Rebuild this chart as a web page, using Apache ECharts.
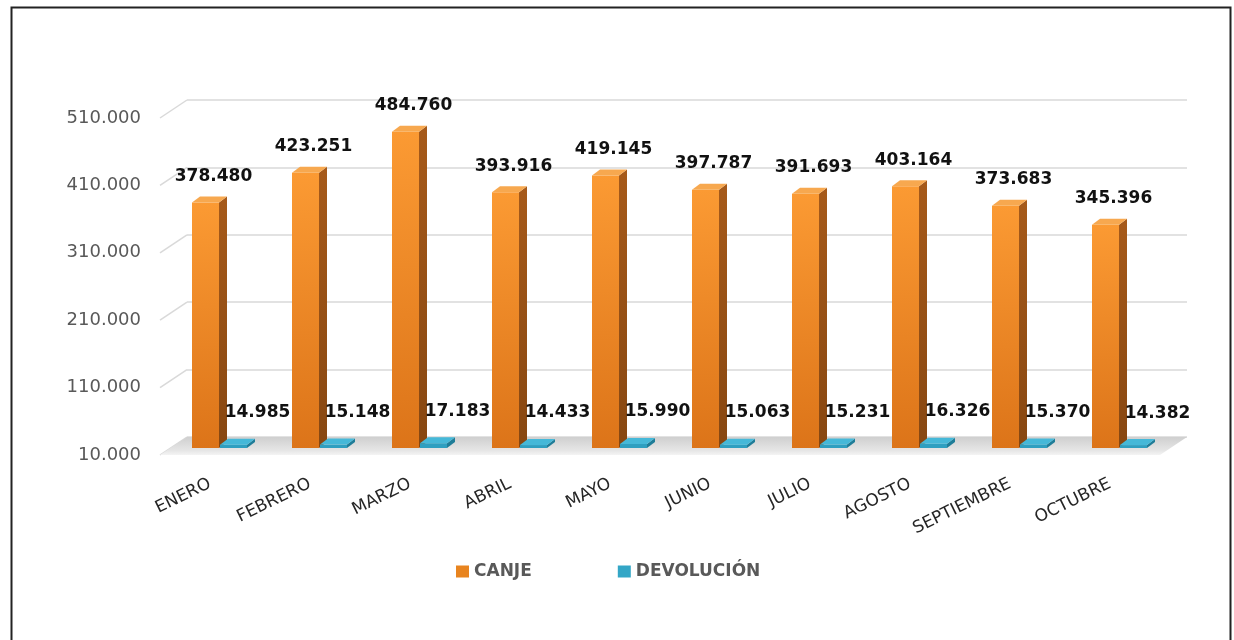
<!DOCTYPE html>
<html><head><meta charset="utf-8">
<script src="https://cdn.jsdelivr.net/npm/echarts@6/dist/echarts.min.js"></script>
<style>html,body{margin:0;padding:0;background:#fff}#c{width:1234px;height:640px}</style>
</head><body><div id="c"></div>
<script>
const categories = ['ENERO','FEBRERO','MARZO','ABRIL','MAYO','JUNIO','JULIO','AGOSTO','SEPTIEMBRE','OCTUBRE'];
const canje = [378480, 423251, 484760, 393916, 419145, 397787, 391693, 403164, 373683, 345396];
const devolucion = [14985, 15148, 17183, 14433, 15990, 15063, 15231, 16326, 15370, 14382];
const yTicks = [10000, 110000, 210000, 310000, 410000, 510000];
const seriesNames = ['CANJE', 'DEVOLUCIÓN'];

const Y_MIN = yTicks[0], Y_MAX = yTicks[yTicks.length - 1], Y_STEP = yTicks[1] - yTicks[0];
const DEPTH_X = 8, DEPTH_Y = 6;
const WALL_X = 27, WALL_Y = 18;
const FONT = '"DejaVu Sans", sans-serif';

function fmt(v) { return String(Math.round(v)).replace(/\B(?=(\d{3})+(?!\d))/g, '.'); }

const LG = echarts.graphic.LinearGradient;
const orange = {
  front: new LG(0, 0, 0, 1, [{offset: 0, color: '#fb9a33'}, {offset: 1, color: '#dc7419'}]),
  side: new LG(0, 0, 0, 1, [{offset: 0, color: '#a65a1a'}, {offset: 1, color: '#874711'}]),
  top: '#f7a84f', legend: '#e8841f'
};
const teal = {
  front: '#2f9fc0', side: '#1f7d98', top: '#45b8d8', legend: '#33a6c6'
};

function bar3d(colors, offsetFrac, labelDx, labelDy) {
  return function (params, api) {
    const i = api.value(0), v = api.value(1);
    const top = api.coord([i, v]);
    const base = api.coord([i, Y_MIN]);
    const bw = api.size([1, 0])[0];
    const w = bw * 0.27;
    const x0 = top[0] + bw * offsetFrac;
    const x1 = x0 + w;
    const yT = top[1], yB = base[1];
    return {
      type: 'group',
      children: [
        {type: 'polygon', shape: {points: [[x1, yT], [x1 + DEPTH_X, yT - DEPTH_Y], [x1 + DEPTH_X, yB - DEPTH_Y], [x1, yB]]}, style: {fill: colors.side}},
        {type: 'rect', shape: {x: x0, y: yT, width: w, height: yB - yT}, style: {fill: colors.front}},
        {type: 'polygon', shape: {points: [[x0, yT], [x0 + DEPTH_X, yT - DEPTH_Y], [x1 + DEPTH_X, yT - DEPTH_Y], [x1, yT]]}, style: {fill: colors.top}},
        {type: 'text', x: x0 + w / 2 + labelDx, y: yT - DEPTH_Y + labelDy, z2: 10,
          style: {text: fmt(v), fill: '#111', font: 'bold 17px ' + FONT, align: 'center', verticalAlign: 'middle'}}
      ]
    };
  };
}

const chart = echarts.init(document.getElementById('c'), null, {renderer: 'canvas'});
const hiddenX = (gi) => ({type: 'category', gridIndex: gi, data: categories, show: false});
const valY = (gi, extra) => Object.assign({type: 'value', gridIndex: gi, min: Y_MIN, max: Y_MAX, interval: Y_STEP,
  axisLine: {show: false}, axisTick: {show: false}, axisLabel: {show: false}, splitLine: {show: false}}, extra || {});

chart.setOption({
  animation: false,
  backgroundColor: '#fff',
  graphic: [{type: 'rect', left: 9, top: 5, shape: {width: 1219, height: 700}, style: {fill: 'none', stroke: '#222', lineWidth: 2}, silent: true}],
  grid: [
    {left: 171, top: 115, width: 1000, height: 333},
    {left: 187, top: 100, width: 1000, height: 337},
    {left: 160, top: 118, width: 1000, height: 337}
  ],
  xAxis: [
    hiddenX(0), hiddenX(1),
    {type: 'category', gridIndex: 2, data: categories, axisLine: {show: false}, axisTick: {show: false},
      axisLabel: {interval: 0, rotate: 26, margin: 28, color: '#262626', fontSize: 17, fontFamily: FONT}}
  ],
  yAxis: [
    valY(0),
    valY(1, {splitLine: {show: true, lineStyle: {color: '#d9d9d9', width: 1.5}}}),
    valY(2, {axisLabel: {show: true, margin: 19, color: '#595959', fontSize: 18, fontFamily: FONT, formatter: fmt}})
  ],
  legend: {
    left: 456, top: 563, padding: 0, itemWidth: 13, itemHeight: 12, itemGap: 86,
    textStyle: {color: '#595959', fontWeight: 'bold', fontSize: 17, fontFamily: FONT},
    data: [
      {name: seriesNames[0], icon: 'rect', itemStyle: {color: orange.legend}},
      {name: seriesNames[1], icon: 'rect', itemStyle: {color: teal.legend}}
    ]
  },
  series: [
    {
      type: 'custom', xAxisIndex: 2, yAxisIndex: 2, z: 1, silent: true,
      data: [[0, Y_MIN]],
      renderItem: function (params, api) {
        const cs = params.coordSys;
        const yF = api.coord([0, Y_MIN])[1];
        return {type: 'polygon', shape: {points: [[cs.x, yF], [cs.x + cs.width, yF], [cs.x + cs.width + WALL_X, yF - WALL_Y], [cs.x + WALL_X, yF - WALL_Y]]},
          style: {fill: new LG(0, 0, 0, 1, [{offset: 0, color: '#cfcfcf'}, {offset: 0.75, color: '#e6e6e6'}, {offset: 1, color: '#f4f4f4'}])}};
      }
    },
    {
      type: 'custom', xAxisIndex: 2, yAxisIndex: 2, z: 0, silent: true,
      data: yTicks.map(t => [0, t]),
      renderItem: function (params, api) {
        const cs = params.coordSys;
        const y = api.coord([0, api.value(1)])[1];
        return {type: 'line', shape: {x1: cs.x, y1: y, x2: cs.x + WALL_X, y2: y - WALL_Y}, style: {stroke: '#d9d9d9', lineWidth: 1.5}};
      }
    },
    {
      name: seriesNames[0], type: 'custom', xAxisIndex: 0, yAxisIndex: 0, z: 3,
      itemStyle: {color: orange.legend},
      data: canje.map((v, i) => [i, v]),
      renderItem: bar3d(orange, -0.29, 8, -20)
    },
    {
      name: seriesNames[1], type: 'custom', xAxisIndex: 0, yAxisIndex: 0, z: 4,
      itemStyle: {color: teal.legend},
      data: devolucion.map((v, i) => [i, v]),
      renderItem: bar3d(teal, -0.01, 24, -26)
    }
  ]
});
</script></body></html>
